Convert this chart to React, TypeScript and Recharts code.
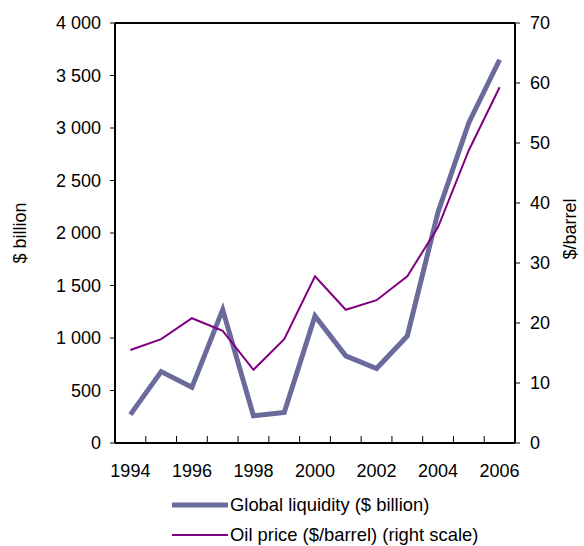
import React from 'react';
import { LineChart, Line, XAxis, YAxis, Legend, ReferenceLine } from 'recharts';

const years = [1994, 1995, 1996, 1997, 1998, 1999, 2000, 2001, 2002, 2003, 2004, 2005, 2006];
const liquidity = [270, 680, 530, 1270, 260, 290, 1210, 830, 710, 1020, 2200, 3050, 3650];
const oilPrice = [15.5, 17.3, 20.8, 18.7, 12.2, 17.3, 27.8, 22.2, 23.8, 27.8, 36, 48.8, 59.3];
const leftTicks = [0, 500, 1000, 1500, 2000, 2500, 3000, 3500, 4000];
const rightTicks = [0, 10, 20, 30, 40, 50, 60, 70];
const xLabelYears = [1994, 1996, 1998, 2000, 2002, 2004, 2006];
const xBoundaries = [1994.5, 1995.5, 1996.5, 1997.5, 1998.5, 1999.5, 2000.5, 2001.5, 2002.5, 2003.5, 2004.5, 2005.5];

const data = years.map((y, i) => ({ year: y, liquidity: liquidity[i], oil: oilPrice[i] }));
const xTicks = [...years, ...xBoundaries].sort((a, b) => a - b);

const FONT = "'Liberation Sans', Arial, sans-serif";

const fmt = (v: number) => {
  const s = String(v);
  return s.length > 3 ? s.slice(0, s.length - 3) + '\u00a0' + s.slice(s.length - 3) : s;
};

const XTick = (props: any) => {
  const { x, y, payload } = props;
  const v = payload.value;
  if (xBoundaries.includes(v)) {
    return <line x1={x} x2={x} y1={y - 1} y2={y - 7} stroke="#000" strokeWidth={1} />;
  }
  if (xLabelYears.includes(v)) {
    return (
      <text x={x} y={y + 34} textAnchor="middle" fill="#000" fontSize={18} fontFamily={FONT}>
        {v}
      </text>
    );
  }
  return null;
};

const renderLegend = (props: any) => {
  const { payload } = props;
  return (
    <div style={{ fontFamily: FONT, fontSize: 18.4, color: '#000' }}>
      {(payload || []).map((e: any, i: number) => (
        <div key={i} style={{ display: 'flex', alignItems: 'center', height: 30 }}>
          <svg width={56} height={10} style={{ marginRight: 2 }}>
            <line x1={0} y1={5} x2={56} y2={5} stroke={e.color} strokeWidth={i === 0 ? 5 : 2} />
          </svg>
          <span style={{ whiteSpace: 'nowrap' }}>{e.value}</span>
        </div>
      ))}
    </div>
  );
};

export default function App() {
  return (
    <div style={{ position: 'absolute', left: 0, top: 0, width: 584, height: 546, background: '#fff' }}>
      <LineChart
        width={584}
        height={546}
        data={data}
        margin={{ top: 23, right: 0, bottom: 73, left: 0 }}
        style={{ fontFamily: FONT }}
      >
        <XAxis
          dataKey="year"
          type="number"
          domain={[1993.5, 2006.5]}
          ticks={xTicks}
          interval={0}
          tickLine={false}
          tickSize={0}
          tickMargin={0}
          tick={<XTick />}
          axisLine={{ stroke: '#000', strokeWidth: 2 }}
          height={30}
          allowDecimals
        />
        <YAxis
          yAxisId="l"
          orientation="left"
          domain={[0, 4000]}
          ticks={leftTicks}
          interval={0}
          width={115}
          tickSize={5}
          tickMargin={9}
          tickFormatter={fmt}
          tick={{ fill: '#000', fontSize: 18, fontFamily: FONT }}
          tickLine={{ stroke: '#000', strokeWidth: 1 }}
          axisLine={{ stroke: '#000', strokeWidth: 2 }}
          label={(p: any) => {
            const vb = p.viewBox || { x: 0, y: 23, width: 115, height: 420 };
            const cx = vb.x + 20;
            const cy = vb.y + vb.height / 2;
            return (
              <text x={cx} y={cy} transform={`rotate(-90 ${cx} ${cy})`} textAnchor="middle" dominantBaseline="central" fill="#000" fontSize={18} fontFamily={FONT}>
                $ billion
              </text>
            );
          }}
        />
        <YAxis
          yAxisId="r"
          orientation="right"
          domain={[0, 70]}
          ticks={rightTicks}
          interval={0}
          width={69}
          tickSize={5}
          tickMargin={10}
          tick={{ fill: '#000', fontSize: 18, fontFamily: FONT }}
          tickLine={{ stroke: '#000', strokeWidth: 1 }}
          axisLine={{ stroke: '#000', strokeWidth: 2 }}
          label={(p: any) => {
            const vb = p.viewBox || { x: 515, y: 23, width: 69, height: 420 };
            const cx = vb.x + 55;
            const cy = vb.y + vb.height / 2 - 4;
            return (
              <text x={cx} y={cy} transform={`rotate(-90 ${cx} ${cy})`} textAnchor="middle" dominantBaseline="central" fill="#000" fontSize={18} fontFamily={FONT}>
                $/barrel
              </text>
            );
          }}
        />
        <ReferenceLine yAxisId="l" y={4000} stroke="#000" strokeWidth={2} />
        <Line
          yAxisId="l"
          dataKey="liquidity"
          name="Global liquidity ($ billion)"
          stroke="#6a6a9c"
          strokeWidth={5}
          dot={false}
          isAnimationActive={false}
        />
        <Line
          yAxisId="r"
          dataKey="oil"
          name="Oil price ($/barrel) (right scale)"
          stroke="#800080"
          strokeWidth={2}
          dot={false}
          isAnimationActive={false}
        />
        <Legend
          layout="vertical"
          align="center"
          verticalAlign="middle"
          content={renderLegend}
          wrapperStyle={{ left: 172, top: 490, width: 400 }}
        />
      </LineChart>
    </div>
  );
}
